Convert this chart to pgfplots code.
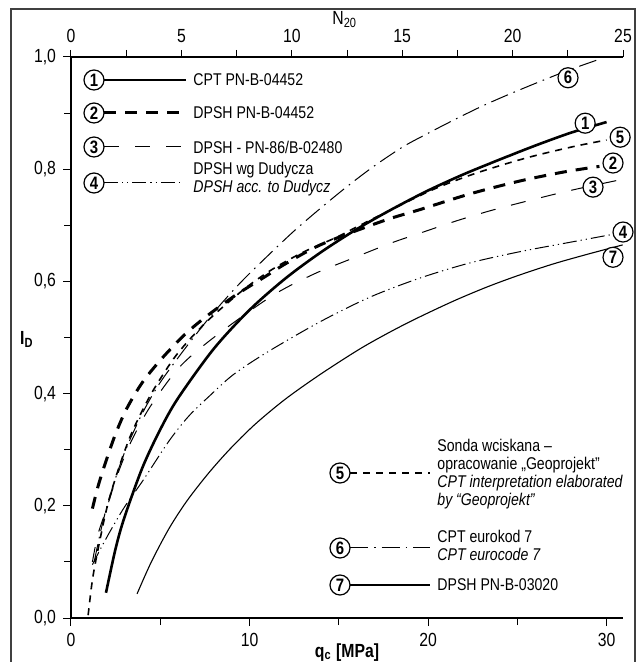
\documentclass[border=0pt]{standalone}
\usepackage{fontspec}
\setmainfont{Liberation Sans}[FakeStretch=0.83]
\usepackage{pgfplots}
\pgfplotsset{compat=1.18}
\tikzset{
  cn/.style={circle, draw, line width=0.6pt, fill=white, inner sep=0pt, minimum size=10pt, font=\fontsize{9}{9}\selectfont\bfseries},
  s1/.style={line width=1.3pt},
  s2/.style={line width=1.5pt, dash pattern=on 6pt off 4.5pt},
  s3/.style={line width=0.5pt, dash pattern=on 7.5pt off 8pt},
  s4/.style={line width=0.5pt, dash pattern=on 7pt off 2pt on 0.6pt off 2pt on 0.6pt off 2pt},
  s5/.style={line width=0.8pt, dash pattern=on 3.5pt off 3pt},
  s6/.style={line width=0.5pt, dash pattern=on 9pt off 3pt on 0.8pt off 3pt},
  s7/.style={line width=0.55pt},
  lt/.style={anchor=west, inner sep=0pt, align=left, font=\fontsize{8.5}{9}\selectfont},
}
\begin{document}
\begin{tikzpicture}[font=\fontsize{8.5}{9}\selectfont]
\begin{axis}[
  scale only axis, width=276pt, height=280.5pt,
  xmin=0, xmax=30.92, ymin=0, ymax=1,
  axis x line*=bottom, axis y line*=left,
  axis line style={line width=0.6pt},
  tick align=outside,
  major tick length=4pt, minor tick length=3.5pt,
  tick style={black, line width=0.5pt},
  xtick={0,10,20,30}, minor xtick={5,15,25},
  ytick={0,0.2,0.4,0.6,0.8,1}, minor ytick={0.1,0.3,0.5,0.7,0.9},
  /pgf/number format/assume math mode=true,
  yticklabel style={/pgf/number format/.cd, fixed, fixed zerofill, precision=1, use comma},
  every tick label/.append style={font=\fontsize{9.5}{10}\selectfont},
  xlabel={\textbf{q\textsubscript{c} [MPa]}},
  every axis x label/.style={at={(axis description cs:0.5,-0.062)}, anchor=center, font=\fontsize{9.5}{10}\selectfont},
  ylabel={\textbf{I\textsubscript{D}}},
  every axis y label/.style={at={(axis description cs:-0.08,0.496)}, anchor=center, font=\fontsize{9.5}{10}\selectfont},
]
% 1 CPT PN-B-04452
\addplot[s1, smooth] coordinates {(1.96,0.045) (2.5,0.124) (3,0.180) (4,0.268) (5,0.336) (6,0.392) (8,0.480) (10,0.549) (12,0.605) (14,0.652) (16,0.693) (18,0.729) (20,0.762) (22,0.791) (24,0.817) (26,0.842) (28,0.865) (30,0.884)};
% 2 DPSH PN-B-04452
\addplot[s2, smooth] coordinates {(1.2,0.195) (1.5,0.233) (1.9,0.274) (2.47,0.326) (3.1,0.372) (4.0,0.42) (5.1,0.463) (6.4,0.506) (7.6,0.538) (9.2,0.575) (10.8,0.607) (12.1,0.633) (14.1,0.667) (17.5,0.708) (19.55,0.728) (22.35,0.756) (25.15,0.779) (27.6,0.795) (29.6,0.805)};
% 3 DPSH PN-86/B-02480
\addplot[s3, smooth] coordinates {(1.2,0.10) (1.5,0.148) (2,0.196) (2.6,0.255) (3.3,0.31) (4.4,0.375) (6.1,0.448) (8.2,0.505) (11.3,0.575) (13.6,0.613) (15.6,0.639) (17.9,0.668) (19.55,0.686) (21.6,0.708) (23.6,0.727) (25.9,0.746) (28.1,0.763) (30.9,0.782)};
% 4 DPSH Dudycz
\addplot[s4, smooth] coordinates {(1.2,0.095) (1.6,0.12) (2.2,0.155) (3,0.198) (4.05,0.246) (5.5,0.316) (6.6,0.36) (7.8,0.397) (9.1,0.434) (11,0.474) (13.95,0.528) (16.75,0.572) (19.55,0.606) (22.35,0.633) (25.15,0.653) (28,0.670) (30.2,0.683)};
% 5 Geoprojekt
\addplot[s5, smooth] coordinates {(0.96,0.005) (1.2,0.068) (1.5,0.12) (2,0.195) (2.6,0.26) (3.4,0.33) (4.5,0.40) (5.7,0.46) (6.6,0.495) (7.5,0.525) (8.35,0.55) (9.85,0.59) (11.3,0.622) (13,0.652) (14.9,0.679) (16,0.697) (17.7,0.724) (20.3,0.764) (22.7,0.793) (25.5,0.82) (28.1,0.84) (30,0.852)};
% 6 CPT eurokod 7
\addplot[s6, smooth] coordinates {(1.3,0.10) (1.7,0.16) (2.2,0.22) (3,0.295) (4,0.365) (5,0.42) (6.5,0.485) (8,0.545) (9.5,0.598) (11,0.645) (12.5,0.69) (14,0.731) (15.5,0.77) (17,0.806) (18.6,0.84) (20,0.864) (21.4,0.887) (23,0.912) (24.5,0.933) (26.4,0.958) (28,0.978) (29.6,0.996)};
% 7 DPSH PN-B-03020
\addplot[s7, smooth] coordinates {(3.7,0.043) (4.5,0.10) (5.5,0.16) (6.5,0.209) (7.7,0.258) (8.9,0.301) (10.3,0.345) (12,0.39) (13.95,0.434) (16.2,0.48) (18,0.512) (19.55,0.537) (21.5,0.566) (23.3,0.59) (25,0.61) (27,0.631) (29,0.649) (30.9,0.665)};
\coordinate (O) at (axis cs:0,0);
\coordinate (L1) at (axis cs:28.8,0.882);
\coordinate (L2) at (axis cs:30.36,0.811);
\coordinate (L3) at (axis cs:29.24,0.768);
\coordinate (L4) at (axis cs:30.92,0.688);
\coordinate (L5) at (axis cs:30.76,0.857);
\coordinate (L6) at (axis cs:27.84,0.963);
\coordinate (L7) at (axis cs:30.36,0.643);
\end{axis}
\begin{axis}[
  scale only axis, width=276pt, height=280.5pt,
  xmin=0, xmax=25, ymin=0, ymax=1,
  axis x line*=top, axis y line=none,
  axis line style={line width=0.6pt},
  tick align=outside,
  major tick length=3.5pt, minor tick length=3.5pt,
  tick style={black, line width=0.5pt},
  xtick={0,5,10,15,20,25}, minor xtick={2.5,7.5,12.5,17.5,22.5},
  /pgf/number format/assume math mode=true,
  every tick label/.append style={font=\fontsize{9.5}{10}\selectfont},
  xlabel={N\textsubscript{20}},
  every axis x label/.style={at={(axis description cs:0.496,1.066)}, anchor=center, font=\fontsize{9.5}{10}\selectfont},
]
\end{axis}
\foreach \n in {1,...,7} {\node[cn] at (L\n) {\n};}
\pgfresetboundingbox
\begin{scope}[shift={(O)}]
\begin{scope}[x=1pt, y=1pt, shift={(-35.5pt,-22pt)}]
\useasboundingbox (0,0) rectangle (319.5,331);
\draw[line width=0.7pt, black!75] (5.5,-2) -- (5.5,326.5) -- (317.5,326.5) -- (317.5,-2);
% legend upper left
\draw[s1] (52,291) -- (93,291); \node[cn] at (47,291) {1};
\node[lt] at (96.5,291) {CPT PN-B-04452};
\draw[s2] (52,274.5) -- (93,274.5); \node[cn] at (47,274.5) {2};
\node[lt] at (96.5,274.5) {DPSH PN-B-04452};
\draw[s3] (52,257.5) -- (93,257.5); \node[cn] at (47,257.5) {3};
\node[lt] at (96.5,257.5) {DPSH - PN-86/B-02480};
\draw[s4] (52,239.5) -- (91,239.5); \node[cn] at (47,239.5) {4};
\node[lt] at (96.5,241.5) {DPSH wg Dudycza\\\textit{DPSH acc. to Dudycz}};
% legend lower right
\draw[s5] (175,94.5) -- (215,94.5); \node[cn] at (170,94.5) {5};
\node[lt] at (218.5,93.75) {Sonda wciskana –\\opracowanie „Geoprojekt”\\\textit{CPT interpretation elaborated}\\\textit{by “Geoprojekt”}};
\draw[s6] (175,57) -- (215,57); \node[cn] at (170,57) {6};
\node[lt] at (218.5,58.5) {CPT eurokod 7\\\textit{CPT eurocode 7}};
\draw[s7] (175,38.5) -- (215,38.5); \node[cn] at (170,38.5) {7};
\node[lt] at (218.5,38.5) {DPSH PN-B-03020};
\end{scope}
\end{scope}
\end{tikzpicture}
\end{document}
